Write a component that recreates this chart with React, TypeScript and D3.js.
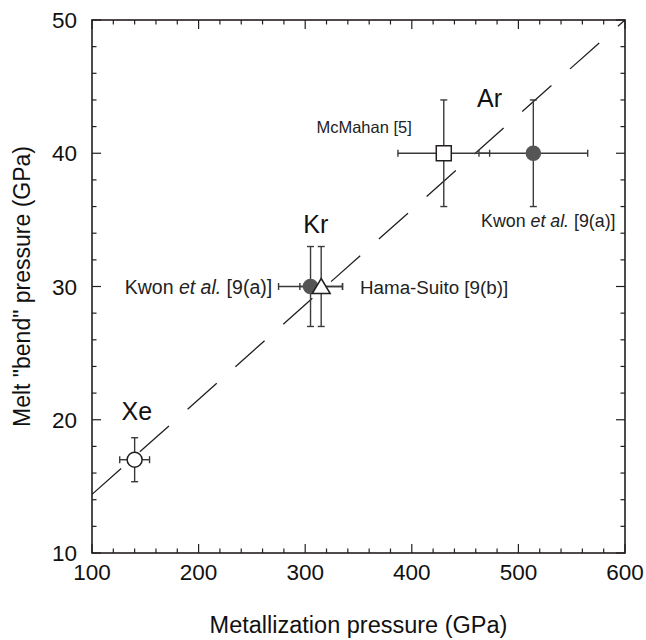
import React from 'react';
import * as d3 from 'd3';

// measured points: melt "bend" pressure vs metallization pressure
const pointNames = ['Xe', 'Kwon Kr', 'Hama-Suito Kr', 'McMahan Ar', 'Kwon Ar'];
const metallization = [140, 305, 315, 430, 514];
const metallizationErr = [14, 30, 20, 43, 51];
const meltBend = [17, 30, 30, 40, 40];
const meltBendErr = [1.65, 3, 3, 4, 4];
const markers = ['openCircle', 'filledCircle', 'openTriangle', 'openSquare', 'filledCircle'];

// dashed fit line end points
const fitX = [100, 600];
const fitY = [14.4, 50];

const xTicks = [100, 200, 300, 400, 500, 600];
const yTicks = [10, 20, 30, 40, 50];

const font = "'Liberation Sans', Arial, Helvetica, sans-serif";

export default function App() {
  const W = 646;
  const H = 640;
  const margin = { top: 20, right: 21, bottom: 87, left: 92 };

  const x = d3.scaleLinear().domain([100, 600]).range([margin.left, W - margin.right]);
  const y = d3.scaleLinear().domain([10, 50]).range([H - margin.bottom, margin.top]);

  const x0 = x(100), x1 = x(600), y0 = y(10), y1 = y(50);
  const ink = '#231f20';
  const barInk = '#3a3a3a';

  const xMinor = d3.range(100, 601, 20);
  const yMinor = d3.range(10, 51, 2);

  const line = d3.line<number>()
    .x((d, i) => x(fitX[i]))
    .y((d, i) => y(fitY[i]));

  const cap = 3.5;

  const marker = (kind: string, cx: number, cy: number, key: string) => {
    if (kind === 'filledCircle') return <circle key={key} cx={cx} cy={cy} r={7.8} fill="#555" />;
    if (kind === 'openCircle') return <circle key={key} cx={cx} cy={cy} r={7.5} fill="#fff" stroke={ink} strokeWidth={1.5} />;
    if (kind === 'openSquare') return <rect key={key} x={cx - 7.5} y={cy - 7.5} width={15} height={15} fill="#fff" stroke={ink} strokeWidth={1.5} />;
    const p = `M${cx},${cy - 8} L${cx + 9},${cy + 7} L${cx - 9},${cy + 7} Z`;
    return <path key={key} d={p} fill="#fff" stroke={ink} strokeWidth={1.5} />;
  };

  return (
    <svg width={W} height={H} style={{ position: 'absolute', left: 0, top: 0, background: '#fff' }} fontFamily={font}>
      {/* dashed fit */}
      <path d={line(fitX) || ''} fill="none" stroke={ink} strokeWidth={1.3} strokeDasharray="39 25" />

      {/* error bars */}
      {pointNames.map((n, i) => {
        const cx = x(metallization[i]);
        const cy = y(meltBend[i]);
        const xl = x(metallization[i] - metallizationErr[i]);
        const xr = x(metallization[i] + metallizationErr[i]);
        const yt = y(meltBend[i] + meltBendErr[i]);
        const yb = y(meltBend[i] - meltBendErr[i]);
        return (
          <g key={n} stroke={barInk} strokeWidth={1.4}>
            <line x1={xl} x2={xr} y1={cy} y2={cy} />
            <line x1={xl} x2={xl} y1={cy - cap} y2={cy + cap} />
            <line x1={xr} x2={xr} y1={cy - cap} y2={cy + cap} />
            <line x1={cx} x2={cx} y1={yt} y2={yb} />
            <line x1={cx - cap} x2={cx + cap} y1={yt} y2={yt} />
            <line x1={cx - cap} x2={cx + cap} y1={yb} y2={yb} />
          </g>
        );
      })}
      {pointNames.map((n, i) => marker(markers[i], x(metallization[i]), y(meltBend[i]), 'm' + n))}

      {/* frame and ticks */}
      <rect x={x0} y={y1} width={x1 - x0} height={y0 - y1} fill="none" stroke={ink} strokeWidth={1.6} />
      <g stroke={ink} strokeWidth={1.2}>
        {xMinor.map(v => {
          const len = v % 100 === 0 ? 9 : 4.5;
          return (
            <g key={'xt' + v}>
              <line x1={x(v)} x2={x(v)} y1={y0} y2={y0 - len} />
              <line x1={x(v)} x2={x(v)} y1={y1} y2={y1 + len} />
            </g>
          );
        })}
        {yMinor.map(v => {
          const len = v % 10 === 0 ? 9 : 4.5;
          return (
            <g key={'yt' + v}>
              <line x1={x0} x2={x0 + len} y1={y(v)} y2={y(v)} />
              <line x1={x1} x2={x1 - len} y1={y(v)} y2={y(v)} />
            </g>
          );
        })}
      </g>

      {/* tick labels */}
      <g fontSize={22.5} fill="#111">
        {xTicks.map(v => (
          <text key={'xl' + v} x={x(v)} y={y0 + 27} textAnchor="middle">{v}</text>
        ))}
        {yTicks.map(v => (
          <text key={'yl' + v} x={x0 - 15} y={y(v) + 8} textAnchor="end">{v}</text>
        ))}
      </g>

      {/* axis titles */}
      <text x={(x0 + x1) / 2} y={633} textAnchor="middle" fontSize={23.5} fill="#111">Metallization pressure (GPa)</text>
      <text transform={`translate(30, ${(y0 + y1) / 2}) rotate(-90)`} textAnchor="middle" fontSize={23} fill="#111">Melt "bend" pressure (GPa)</text>

      {/* element labels */}
      <g fontSize={25} fill="#111" textAnchor="middle">
        <text x={x(473)} y={y(43.47)}>Ar</text>
        <text x={x(310)} y={y(34)}>Kr</text>
        <text x={x(142)} y={y(20)}>Xe</text>
      </g>

      {/* source labels */}
      <g fill="#222">
        <text x={x(400)} y={y(41.5)} fontSize={16.5} textAnchor="end">McMahan [5]</text>
        <text x={x(465)} y={y(34.5)} fontSize={17.8}>Kwon <tspan fontStyle="italic">et al.</tspan> [9(a)]</text>
        <text x={x(269)} y={y(29.45)} fontSize={19.5} textAnchor="end">Kwon <tspan fontStyle="italic">et al.</tspan> [9(a)]</text>
        <text x={x(351.4)} y={y(29.45)} fontSize={18.8}>Hama-Suito [9(b)]</text>
      </g>
    </svg>
  );
}
